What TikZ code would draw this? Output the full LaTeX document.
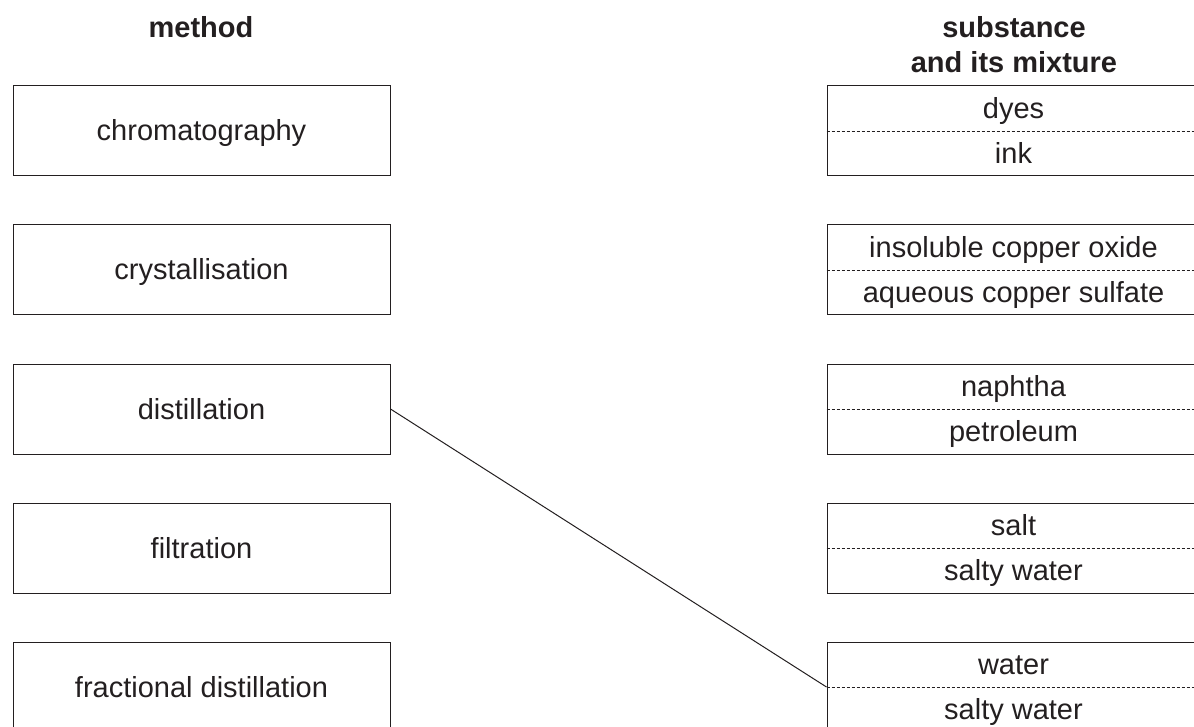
\documentclass[tikz,border=0pt]{standalone}
\usepackage{fontspec}
\setmainfont{Liberation Sans}
\definecolor{ink}{RGB}{35,31,32}
\begin{document}
\begin{tikzpicture}[x=1pt,y=1pt,
  txt/.style={font=\fontsize{29}{35}\selectfont, text=ink, inner sep=0pt, text height=26pt, text depth=6pt},
  head/.style={font=\fontsize{29}{35}\selectfont\bfseries, text=ink, inner sep=0pt, align=center},
  mbox/.style={draw=ink, line width=1pt, minimum width=377pt, minimum height=90pt, inner sep=0pt, font=\fontsize{29}{35}\selectfont, text=ink, text height=26pt, text depth=6pt},
  sbox/.style={draw=ink, line width=1pt, minimum width=373pt, minimum height=90pt, inner sep=0pt},
  divider/.style={draw=ink, line width=0.8pt, dash pattern=on 3pt off 2pt},
  link/.style={draw=ink, line width=1pt}]
\clip (0,0) rectangle (1194,-727);
\useasboundingbox (0,0) rectangle (1194,-727);
% headings
\node[head] (hm) at (201,-27) {method};
\node[head] (hs) at (1014,-45) {substance\\and its mixture};
% method boxes
\node[mbox] (m1) at (201.5,-131) {chromatography};
\node[mbox] (m2) at (201.5,-270) {crystallisation};
\node[mbox] (m3) at (201.5,-409) {distillation};
\node[mbox] (m4) at (201.5,-548) {filtration};
\node[mbox] (m5) at (201.5,-687) {fractional distillation};
% substance boxes
\foreach \i/\y/\a/\b in {1/-131/dyes/ink,
                          2/-270/insoluble copper oxide/aqueous copper sulfate,
                          3/-409/naphtha/petroleum,
                          4/-548/salt/salty water,
                          5/-687/water/salty water}{
  \node[sbox] (s\i) at (1013.5,\y) {};
  \draw[divider] (s\i.west) -- (s\i.east);
  \node[txt] (s\i a) at ([yshift=22.5pt]s\i.center) {\a};
  \node[txt] (s\i b) at ([yshift=-22.5pt]s\i.center) {\b};
}
% connector
\draw[link] (m3.east) -- (s5.west);
\end{tikzpicture}
\end{document}
